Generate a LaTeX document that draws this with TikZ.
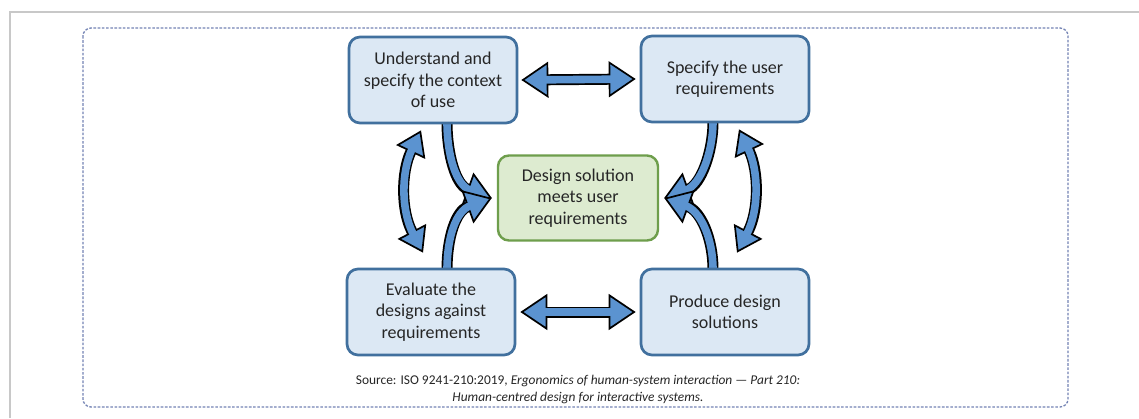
\documentclass[tikz,border=0pt]{standalone}
\usepackage{fontspec}
\setmainfont{Carlito}
\usetikzlibrary{arrows.meta}
\pgfdeclarelayer{back}
\pgfsetlayers{back,main}
\definecolor{boxfill}{HTML}{DCE8F4}
\definecolor{boxdraw}{HTML}{41709E}
\definecolor{grnfill}{HTML}{DDEBD0}
\definecolor{grndraw}{HTML}{6E9E4C}
\definecolor{arrowblue}{HTML}{5B93D0}
\definecolor{dashcol}{HTML}{7484B4}
\definecolor{txt}{HTML}{262626}
\definecolor{framegrey}{HTML}{C8C8C8}
\tikzset{
  bighd/.tip={Triangle[width=36pt,length=27pt,line width'=1.7pt,color=black,fill=arrowblue]},
  midhd/.tip={Triangle[width=35pt,length=26pt,line width'=1.7pt,color=black,fill=arrowblue]},
  vhd/.tip={Triangle[width=32pt,length=24pt,line width'=1.7pt,color=black,fill=arrowblue]},
  outer/.style={line width=11pt,draw=black},
  inner/.style={line width=7.6pt,draw=arrowblue},
  sidebox/.style={draw=boxdraw,fill=boxfill,line width=2.7pt,rounded corners=11pt,
    minimum width=168pt,minimum height=86pt,align=center,text=txt,
    font=\fontsize{18}{21.5}\selectfont},
  centbox/.style={draw=grndraw,fill=grnfill,line width=2.4pt,rounded corners=11pt,
    minimum width=160pt,minimum height=85pt,align=center,text=txt,
    font=\fontsize{18}{21.5}\selectfont},
}
\begin{document}
\begin{tikzpicture}[x=1pt,y=-1pt]
\useasboundingbox (0,0) rectangle (1139,418);
\begin{pgfonlayer}{back}
\fill[white] (0,0) rectangle (1139,418);
\draw[framegrey,line width=1.2pt] (10,418) -- (10,12) -- (1139,12);
\draw[dashcol,line width=1.3pt,dash pattern=on 2.6pt off 1.6pt,rounded corners=8pt] (83,28) rectangle (1068,407);
\end{pgfonlayer}

\path (433,80) node[sidebox] (tl) {Understand and\\specify the context\\of use};
\path (725,79) node[sidebox] (tr) {Specify the user\\requirements};
\path (431,312) node[sidebox] (bl) {Evaluate the\\designs against\\requirements};
\path (725,312) node[sidebox] (br) {Produce design\\solutions};
\path (578,198) node[centbox] (ctr) {Design solution\\meets user\\requirements};

\node[align=center,text=txt,font=\fontsize{13.4}{17}\selectfont] (src) at (578,389.5)
  {Source: ISO 9241-210:2019, \textit{Ergonomics of human-system interaction — Part 210:}\\
   \textit{Human-centred design for interactive systems.}};

\begin{pgfonlayer}{back}
% horizontal double arrows
\draw[outer,bighd-bighd] ([xshift=3pt]tl.east) -- ([xshift=-4pt]tr.west);
\draw[inner,shorten <=24pt,shorten >=24pt] ([xshift=3pt]tl.east) -- ([xshift=-4pt]tr.west);
\draw[outer,bighd-bighd] ([xshift=4pt]bl.east) -- ([xshift=-4pt]br.west);
\draw[inner,shorten <=24pt,shorten >=24pt] ([xshift=4pt]bl.east) -- ([xshift=-4pt]br.west);

% vertical curved double arrows
\draw[outer,vhd-vhd] ([xshift=-12pt,yshift=-6pt]tl.south) .. controls +(-20,42) and +(-22,-42) .. ([xshift=-8pt,yshift=15pt]bl.north);
\draw[inner,shorten <=21pt,shorten >=21pt] ([xshift=-12pt,yshift=-6pt]tl.south) .. controls +(-20,42) and +(-22,-42) .. ([xshift=-8pt,yshift=15pt]bl.north);
\draw[outer,vhd-vhd] ([xshift=14pt,yshift=-6pt]tr.south) .. controls +(20,42) and +(22,-42) .. ([xshift=12pt,yshift=15pt]br.north);
\draw[inner,shorten <=21pt,shorten >=21pt] ([xshift=14pt,yshift=-6pt]tr.south) .. controls +(20,42) and +(22,-42) .. ([xshift=12pt,yshift=15pt]br.north);

% curved single arrows into centre
\draw[outer,-midhd] ([xshift=14pt,yshift=2pt]tl.south) .. controls +(0,32) and +(-36,-13) .. ([xshift=-5pt]ctr.west);
\draw[inner,shorten >=23pt] ([xshift=14pt,yshift=2pt]tl.south) .. controls +(0,32) and +(-36,-13) .. ([xshift=-5pt]ctr.west);
\draw[outer,-midhd] ([xshift=16pt,yshift=-2pt]bl.north) .. controls +(0,-32) and +(-36,13) .. ([xshift=-5pt]ctr.west);
\draw[inner,shorten >=23pt] ([xshift=16pt,yshift=-2pt]bl.north) .. controls +(0,-32) and +(-36,13) .. ([xshift=-5pt]ctr.west);
\draw[outer,-midhd] ([xshift=-12pt,yshift=2pt]tr.south) .. controls +(0,32) and +(36,-13) .. ([xshift=5pt]ctr.east);
\draw[inner,shorten >=23pt] ([xshift=-12pt,yshift=2pt]tr.south) .. controls +(0,32) and +(36,-13) .. ([xshift=5pt]ctr.east);
\draw[outer,-midhd] ([xshift=-12pt,yshift=-2pt]br.north) .. controls +(0,-32) and +(36,13) .. ([xshift=5pt]ctr.east);
\draw[inner,shorten >=23pt] ([xshift=-12pt,yshift=-2pt]br.north) .. controls +(0,-32) and +(36,13) .. ([xshift=5pt]ctr.east);
\end{pgfonlayer}
\end{tikzpicture}
\end{document}
